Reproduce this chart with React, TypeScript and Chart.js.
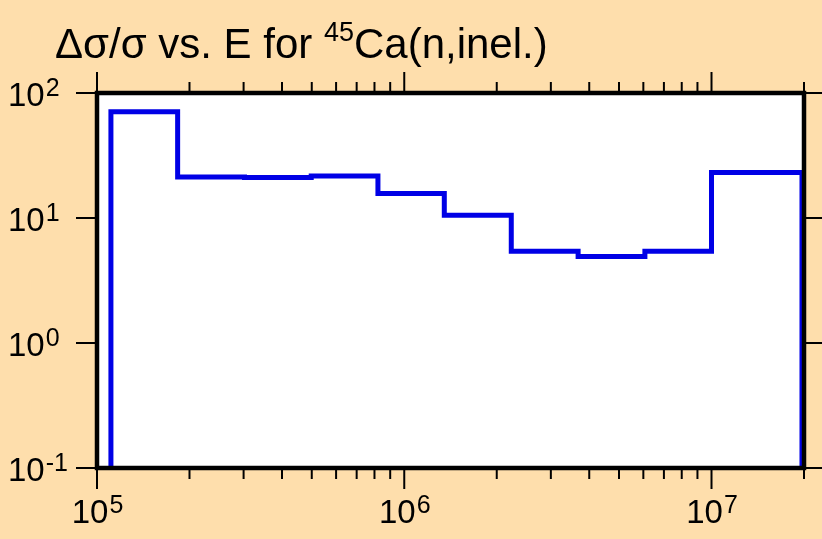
import React, { useEffect, useRef } from 'react';
import { Chart, registerables } from 'chart.js';

Chart.register(...registerables);

// Energy group boundaries (eV) and relative uncertainty Δσ/σ (%) per group
const binEdges = [1.11e5, 1.83e5, 3.02e5, 4.98e5, 8.21e5, 1.35e6, 2.23e6, 3.68e6, 6.07e6, 1.0e7, 1.97e7];
const relUncertainty = [70.8, 21.3, 21.1, 21.7, 15.7, 10.5, 5.43, 4.93, 5.43, 23.1];

const xTickExponents = [5, 6, 7];
const yTickExponents = [-1, 0, 1, 2];
const xMin = 1e5;
const xMax = 2e7;
const yMin = 0.1;
const yMax = 100;

const titleMain = 'Δσ/σ vs. E for ';
const titleSup = '45';
const titleTail = 'Ca(n,inel.)';

const BG = 'rgb(254,222,172)';
const LINE = '#0000E6';
const FONT = '"Liberation Sans", Arial, Helvetica, sans-serif';

function drawPow(ctx: CanvasRenderingContext2D, x: number, baseline: number, exp: number, align: 'left' | 'center') {
  const base = '10';
  const e = String(exp);
  ctx.font = `33px ${FONT}`;
  const wb = ctx.measureText(base).width;
  ctx.font = `25px ${FONT}`;
  const we = ctx.measureText(e).width;
  let start = x;
  if (align === 'center') start = x - (wb + we) / 2;
  ctx.textAlign = 'left';
  ctx.textBaseline = 'alphabetic';
  ctx.font = `33px ${FONT}`;
  ctx.fillText(base, start, baseline);
  ctx.font = `25px ${FONT}`;
  ctx.fillText(e, start + wb + 1, baseline - 10);
}

const framePlugin = {
  id: 'framePlugin',
  beforeDraw(chart: any) {
    const { ctx, chartArea: a, width, height } = chart;
    ctx.save();
    ctx.fillStyle = BG;
    ctx.fillRect(0, 0, width, height);
    ctx.fillStyle = '#ffffff';
    ctx.fillRect(a.left, a.top, a.right - a.left, a.bottom - a.top);
    ctx.restore();
  },
  afterDatasetsDraw(chart: any) {
    const { ctx, chartArea: a, width, scales } = chart;
    const xs = scales.x;
    const ys = scales.y;
    const seg = (x1: number, y1: number, x2: number, y2: number) => {
      ctx.beginPath();
      ctx.moveTo(x1, y1);
      ctx.lineTo(x2, y2);
      ctx.stroke();
    };
    ctx.save();
    ctx.strokeStyle = '#000';
    ctx.fillStyle = '#000';
    ctx.lineWidth = 2;
    ctx.lineCap = 'butt';
    // y ticks (left and right, outward)
    for (const e of yTickExponents) {
      const y = ys.getPixelForValue(Math.pow(10, e));
      seg(a.left - 21, y, a.left, y);
      seg(a.right, y, width, y);
    }
    // x ticks (top and bottom, outward)
    for (let k = 5; k <= 7; k++) {
      for (let m = 1; m <= 9; m++) {
        const v = m * Math.pow(10, k);
        if (v < xMin || v > xMax * 1.0001) continue;
        const x = xs.getPixelForValue(v);
        const len = m === 1 ? 21 : 11;
        seg(x, a.top, x, a.top - len);
        seg(x, a.bottom, x, a.bottom + len);
      }
    }
    // frame
    ctx.lineWidth = 4.5;
    ctx.lineJoin = 'miter';
    ctx.strokeRect(a.left, a.top, a.right - a.left, a.bottom - a.top);

    // y labels
    for (const e of yTickExponents) {
      const y = ys.getPixelForValue(Math.pow(10, e));
      drawPow(ctx, 8, y + 13, e, 'left');
    }
    // x labels
    for (const e of xTickExponents) {
      const x = xs.getPixelForValue(Math.pow(10, e));
      drawPow(ctx, x, 523, e, 'center');
    }

    // title
    ctx.textAlign = 'left';
    ctx.textBaseline = 'alphabetic';
    ctx.font = `42px ${FONT}`;
    let tx = 55;
    ctx.fillText(titleMain, tx, 58);
    tx += ctx.measureText(titleMain).width;
    ctx.font = `27px ${FONT}`;
    ctx.fillText(titleSup, tx, 41);
    tx += ctx.measureText(titleSup).width;
    ctx.font = `42px ${FONT}`;
    ctx.fillText(titleTail, tx, 58);
    ctx.restore();
  },
};

export default function App() {
  const canvasRef = useRef<HTMLCanvasElement | null>(null);

  useEffect(() => {
    if (!canvasRef.current) return;
    const pts: { x: number; y: number }[] = [];
    pts.push({ x: binEdges[0], y: yMin });
    for (let i = 0; i < relUncertainty.length; i++) {
      pts.push({ x: binEdges[i], y: relUncertainty[i] });
      pts.push({ x: binEdges[i + 1], y: relUncertainty[i] });
    }
    pts.push({ x: binEdges[binEdges.length - 1], y: yMin });

    const chart = new Chart(canvasRef.current, {
      type: 'line',
      data: {
        datasets: [
          {
            label: 'Δσ/σ',
            data: pts,
            borderColor: LINE,
            borderWidth: 5,
            pointRadius: 0,
            fill: false,
            tension: 0,
            borderJoinStyle: 'miter',
          } as any,
        ],
      },
      options: {
        animation: false,
        responsive: false,
        devicePixelRatio: 1,
        parsing: false,
        layout: { padding: { left: 97, top: 93, right: 18, bottom: 71 } },
        plugins: {
          legend: { display: false },
          tooltip: { enabled: false },
          title: { display: false },
        },
        scales: {
          x: { type: 'logarithmic', min: xMin, max: xMax, display: false },
          y: { type: 'logarithmic', min: yMin, max: yMax, display: false },
        },
      },
      plugins: [framePlugin],
    });
    return () => chart.destroy();
  }, []);

  return (
    <div style={{ position: 'fixed', left: 0, top: 0, width: 822, height: 539, background: BG }}>
      <canvas ref={canvasRef} width={822} height={539} />
    </div>
  );
}
